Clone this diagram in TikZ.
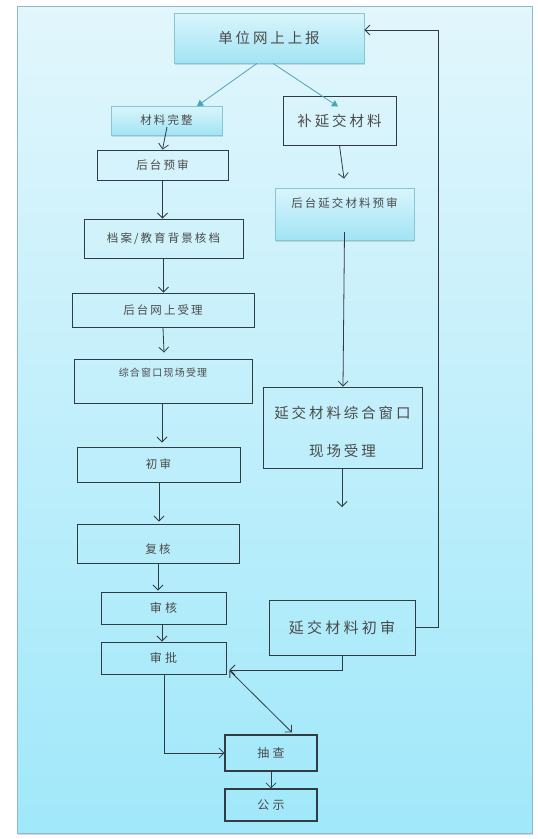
\documentclass[tikz,border=0pt]{standalone}
\usepackage{fontspec}
\setmainfont{Noto Sans CJK SC}
\usetikzlibrary{arrows.meta,shadows}
\definecolor{linec}{HTML}{2F3D42}
\definecolor{tealc}{HTML}{4AA6B6}
\definecolor{txtc}{HTML}{4A4A4A}
\definecolor{gtop}{HTML}{D9F5FC}
\definecolor{gbot}{HTML}{A2E4F4}
\definecolor{gedge}{HTML}{88C4D2}
\definecolor{ptop}{HTML}{E2F6FC}
\definecolor{pbot}{HTML}{A0E8FA}
\definecolor{pedge}{HTML}{8DBAC6}
\begin{document}
\begin{tikzpicture}[x=1pt,y=-1pt,
  box/.style={draw=linec, line width=0.9pt, inner sep=0pt, text=txtc},
  gbox/.style={draw=gedge, line width=0.8pt, top color=gtop, bottom color=gbot, inner sep=0pt, text=txtc,
    drop shadow={opacity=0.25,shadow xshift=1pt,shadow yshift=-1.5pt}},
  arr/.style={draw=linec, line width=0.8pt, -{Straight Barb[length=5pt,width=10pt]}},
  darr/.style={draw=linec, line width=0.8pt, {Straight Barb[length=5pt,width=10pt]}-{Straight Barb[length=5pt,width=10pt]}},
  tarr/.style={draw=tealc, line width=0.8pt, -{Triangle[length=6pt,width=7pt]}},
  txt/.style={inner sep=0pt, text=txtc},
  fa/.style={font=\fontsize{10}{12}\selectfont\addfontfeature{LetterSpace=12}},
  fb/.style={font=\fontsize{11.5}{13}\selectfont\addfontfeature{LetterSpace=18}},
  fc/.style={font=\fontsize{12}{14}\selectfont\addfontfeature{LetterSpace=28}},
  fd/.style={font=\fontsize{14.5}{17}\selectfont\addfontfeature{LetterSpace=20}},
  fe/.style={font=\fontsize{15}{17}\selectfont\addfontfeature{LetterSpace=22}},
]
\useasboundingbox (0,0) rectangle (538,839);
% panel
\draw[pedge, line width=1pt, top color=ptop, bottom color=pbot,
  drop shadow={opacity=0.3,shadow xshift=1pt,shadow yshift=-1.5pt}] (17,6) rectangle (532,833);

% nodes
\node[gbox, minimum width=190pt, minimum height=50pt, fd] (top) at (269,38) {单位网上上报};
\node[gbox, minimum width=111pt, minimum height=29pt, fb] (wz) at (166.5,120.5) {材料完整};
\node[box, minimum width=113pt, minimum height=49pt, fd] (by) at (339.5,120.5) {补延交材料};
\node[box, minimum width=131pt, minimum height=30pt, fb] (hy) at (162.5,165) {后台预审};
\node[box, minimum width=159pt, minimum height=39pt, fb] (da) at (163.5,238.5) {档案/教育背景核档};
\node[box, minimum width=182pt, minimum height=34pt, fb] (ws) at (163,310) {后台网上受理};
\node[box, minimum width=178pt, minimum height=44pt] (zh) at (163,381) {};
\node[txt, fa] (zht) at (163,373) {综合窗口现场受理};
\node[box, minimum width=163pt, minimum height=35pt, fb] (cs) at (158.5,464.5) {初审};
\node[box, minimum width=162pt, minimum height=39pt] (fh) at (158,543.5) {};
\node[txt, fb] (fht) at (158,549) {复核};
\node[box, minimum width=125pt, minimum height=32pt, fc] (sh) at (163.5,608) {审核};
\node[box, minimum width=125pt, minimum height=32pt, fc] (sp) at (163.5,658) {审批};
\node[box, minimum width=92pt, minimum height=36pt, line width=1.1pt, fc] (cc) at (271,753) {抽查};
\node[box, minimum width=92pt, minimum height=32pt, line width=1.1pt, fc] (gs) at (271,805) {公示};
\node[gbox, minimum width=139pt, minimum height=52pt] (yy) at (344.5,214) {};
\node[txt, fb] (yyt) at (344.5,203) {后台延交材料预审};
\node[box, minimum width=159pt, minimum height=81pt] (yz) at (342.5,427.5) {};
\node[txt, fd] (yzt1) at (342.5,413) {延交材料综合窗口};
\node[txt, fd] (yzt2) at (342.5,451) {现场受理};
\node[box, minimum width=146pt, minimum height=55pt, fe] (yc) at (342,627.5) {延交材料初审};
\coordinate (yzend) at (342,507);

% connectors
\draw[tarr] ([shift={(-12,0)}]top.south) -- ([shift={(30.5,0.5)}]wz.north);
\draw[tarr] ([shift={(4,0)}]top.south) -- ([shift={(-1.5,11)}]by.north);
\draw[arr] ([shift={(0.5,6.5)}]wz.center) -- (hy.north);
\draw[arr] (hy.south) -- (hy.south |- da.north);
\draw[arr] (da.south) -- (da.south |- ws.north);
\draw[arr] (ws.south) -- ([shift={(1,-6)}]zh.north);
\draw[arr] ([shift={(-1,0)}]zh.south) -- ([shift={(3.5,-4)}]cs.north);
\draw[arr] ([shift={(0.5,0)}]cs.south) -- ([shift={(1,-2)}]fh.north);
\draw[arr] (fh.south) -- ([shift={(-5.5,-1)}]sh.north);
\draw[arr] ([shift={(-1.5,0)}]sh.south) -- ([shift={(-1.5,0)}]sp.north);
\draw[arr] ([shift={(0.5,0)}]sp.south) |- (cc.west);
\draw[darr] ([shift={(3,-4)}]sp.south east) -- ([shift={(21,-2)}]cc.north);
\draw[arr] (cc.south) -- (gs.north);
\draw[arr] (by.south) -- ([shift={(-0.5,-9)}]yy.north);
\draw[arr] ([shift={(0,18)}]yy.center) -- ([shift={(0.5,0)}]yz.north);
\draw[arr] ([shift={(-0.5,0)}]yz.south) -- (yzend);
\draw[arr] (yc.south) |- ([shift={(3,12)}]sp.east);
\draw[arr] (yc.east) -- ++(23,0) |- ([shift={(0,-8)}]top.east);
\end{tikzpicture}
\end{document}
